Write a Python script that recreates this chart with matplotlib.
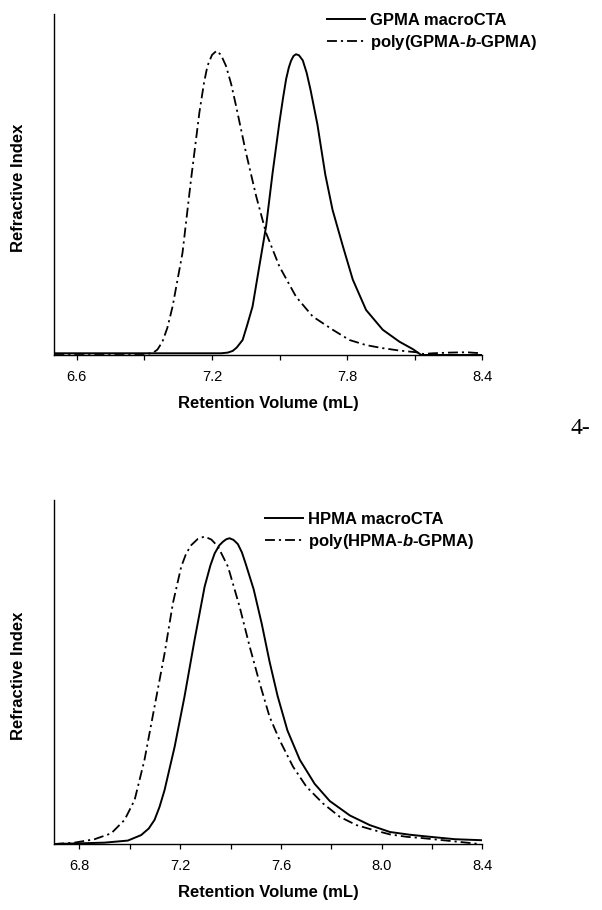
import matplotlib
matplotlib.use("Agg")
import matplotlib.pyplot as plt
from matplotlib.ticker import MultipleLocator

plt.rcParams['font.family'] = ['Liberation Sans', 'DejaVu Sans']
plt.rcParams['mathtext.fontset'] = 'custom'
plt.rcParams['mathtext.it'] = 'Liberation Sans:italic:bold'

# top panel: GPMA macroCTA vs poly(GPMA-b-GPMA)
gpma_x = [6.50, 7.24, 7.27, 7.292, 7.31, 7.336, 7.355, 7.380, 7.410, 7.440,
          7.469, 7.499, 7.515, 7.529, 7.541, 7.551, 7.562, 7.573, 7.586, 7.603,
          7.620, 7.637, 7.668, 7.703, 7.735, 7.781, 7.825, 7.884, 7.958, 8.032,
          8.092, 8.129, 8.40]
gpma_y = [0.005, 0.005, 0.007, 0.012, 0.022, 0.044, 0.085, 0.142, 0.26, 0.377,
          0.534, 0.681, 0.752, 0.809, 0.843, 0.863, 0.877, 0.882, 0.879, 0.864,
          0.828, 0.779, 0.676, 0.529, 0.426, 0.319, 0.221, 0.132, 0.074, 0.039,
          0.017, 0.0, 0.0]

gpma_b_x = [6.50, 6.90, 6.936, 6.958, 6.980, 7.002, 7.025, 7.069, 7.107, 7.144,
            7.165, 7.180, 7.200, 7.220, 7.240, 7.262, 7.285, 7.307, 7.351, 7.396,
            7.440, 7.499, 7.573, 7.647, 7.736, 7.810, 7.884, 7.958, 8.032, 8.107,
            8.136, 8.180, 8.254, 8.329, 8.396]
gpma_b_y = [0.003, 0.003, 0.005, 0.016, 0.039, 0.080, 0.142, 0.299, 0.515, 0.711,
            0.800, 0.848, 0.880, 0.892, 0.880, 0.848, 0.795, 0.730, 0.593, 0.466,
            0.358, 0.260, 0.171, 0.113, 0.074, 0.044, 0.029, 0.020, 0.013, 0.008,
            0.003, 0.005, 0.007, 0.008, 0.005]

# bottom panel: HPMA macroCTA vs poly(HPMA-b-GPMA)
hpma_x = [6.70, 6.899, 6.992, 7.045, 7.075, 7.098, 7.118, 7.138, 7.178, 7.217,
          7.257, 7.297, 7.320, 7.337, 7.355, 7.370, 7.383, 7.396, 7.412, 7.429,
          7.445, 7.460, 7.492, 7.524, 7.555, 7.587, 7.626, 7.675, 7.734, 7.794,
          7.874, 7.953, 8.033, 8.112, 8.192, 8.291, 8.40]
hpma_y = [0.0, 0.004, 0.010, 0.026, 0.045, 0.070, 0.108, 0.157, 0.283, 0.428,
          0.593, 0.748, 0.810, 0.845, 0.868, 0.879, 0.886, 0.889, 0.884, 0.872,
          0.848, 0.815, 0.74, 0.64, 0.53, 0.43, 0.33, 0.245, 0.175, 0.125,
          0.083, 0.055, 0.035, 0.027, 0.021, 0.014, 0.011]

hpma_b_x = [6.70, 6.780, 6.860, 6.926, 6.979, 7.019, 7.058, 7.098, 7.138, 7.171,
            7.204, 7.224, 7.244, 7.270, 7.297, 7.324, 7.350, 7.390, 7.436, 7.476,
            7.516, 7.555, 7.595, 7.648, 7.701, 7.767, 7.834, 7.900, 7.966, 8.033,
            8.099, 8.165, 8.231, 8.298, 8.364, 8.390]
hpma_b_y = [0.0, 0.004, 0.014, 0.031, 0.070, 0.128, 0.244, 0.399, 0.554, 0.700,
            0.806, 0.845, 0.869, 0.887, 0.894, 0.885, 0.865, 0.806, 0.690, 0.574,
            0.467, 0.370, 0.302, 0.225, 0.167, 0.118, 0.079, 0.055, 0.041, 0.028,
            0.021, 0.017, 0.012, 0.007, 0.002, 0.0]

dashdot = (0, (5.5, 2.2, 1.2, 2.2))

fig = plt.figure(figsize=(6.02, 9.10), dpi=100)
ax1 = fig.add_axes([0.0902, 0.6099, 0.711, 0.3747])
ax2 = fig.add_axes([0.0902, 0.0725, 0.711, 0.378])


def style_axes(ax, xmin, major, minor):
    ax.set_xlim(xmin, 8.4)
    ax.set_ylim(0, 1)
    for s in ['top', 'right']:
        ax.spines[s].set_visible(False)
    ax.spines['left'].set_linewidth(1.0)
    ax.spines['bottom'].set_linewidth(1.0)
    ax.xaxis.set_major_locator(MultipleLocator(major))
    ax.xaxis.set_minor_locator(MultipleLocator(minor))
    ax.tick_params(axis='x', which='both', direction='out', length=3.5,
                   width=0.9, labelsize=10.5, pad=7)
    ax.set_yticks([])
    ax.set_xlabel('Retention Volume (mL)', fontsize=12, fontweight='bold', labelpad=9)
    ax.set_ylabel('Refractive Index', fontsize=12, fontweight='bold')
    ax.yaxis.set_label_coords(-0.066, 0.49)


ax1.plot(gpma_x, gpma_y, color='black', lw=1.4, solid_joinstyle='round',
         label='GPMA macroCTA')
ax1.plot(gpma_b_x, gpma_b_y, color='black', lw=1.3, linestyle=dashdot,
         label='poly(GPMA-$\\it{b}$-GPMA)')
style_axes(ax1, 6.5, 0.6, 0.3)
ax1.legend(loc='upper left', bbox_to_anchor=(0.637, 1.003), frameon=False,
           handlelength=2.3, handletextpad=0.3,
           labelspacing=0.3, borderpad=0, borderaxespad=0,
           prop={'weight': 'bold', 'size': 12})

ax2.plot(hpma_x, hpma_y, color='black', lw=1.4, solid_joinstyle='round',
         label='HPMA macroCTA')
ax2.plot(hpma_b_x, hpma_b_y, color='black', lw=1.3, linestyle=dashdot,
         label='poly(HPMA-$\\it{b}$-GPMA)')
style_axes(ax2, 6.7, 0.4, 0.2)
ax2.legend(loc='upper left', bbox_to_anchor=(0.492, 0.965), frameon=False,
           handlelength=2.3, handletextpad=0.3,
           labelspacing=0.3, borderpad=0, borderaxespad=0,
           prop={'weight': 'bold', 'size': 12})

fig.text(580 / 602, 1 - 428 / 910, '4-', fontsize=17, family='Liberation Serif',
         ha='center', va='center')

fig.savefig('out.png', dpi=100)
